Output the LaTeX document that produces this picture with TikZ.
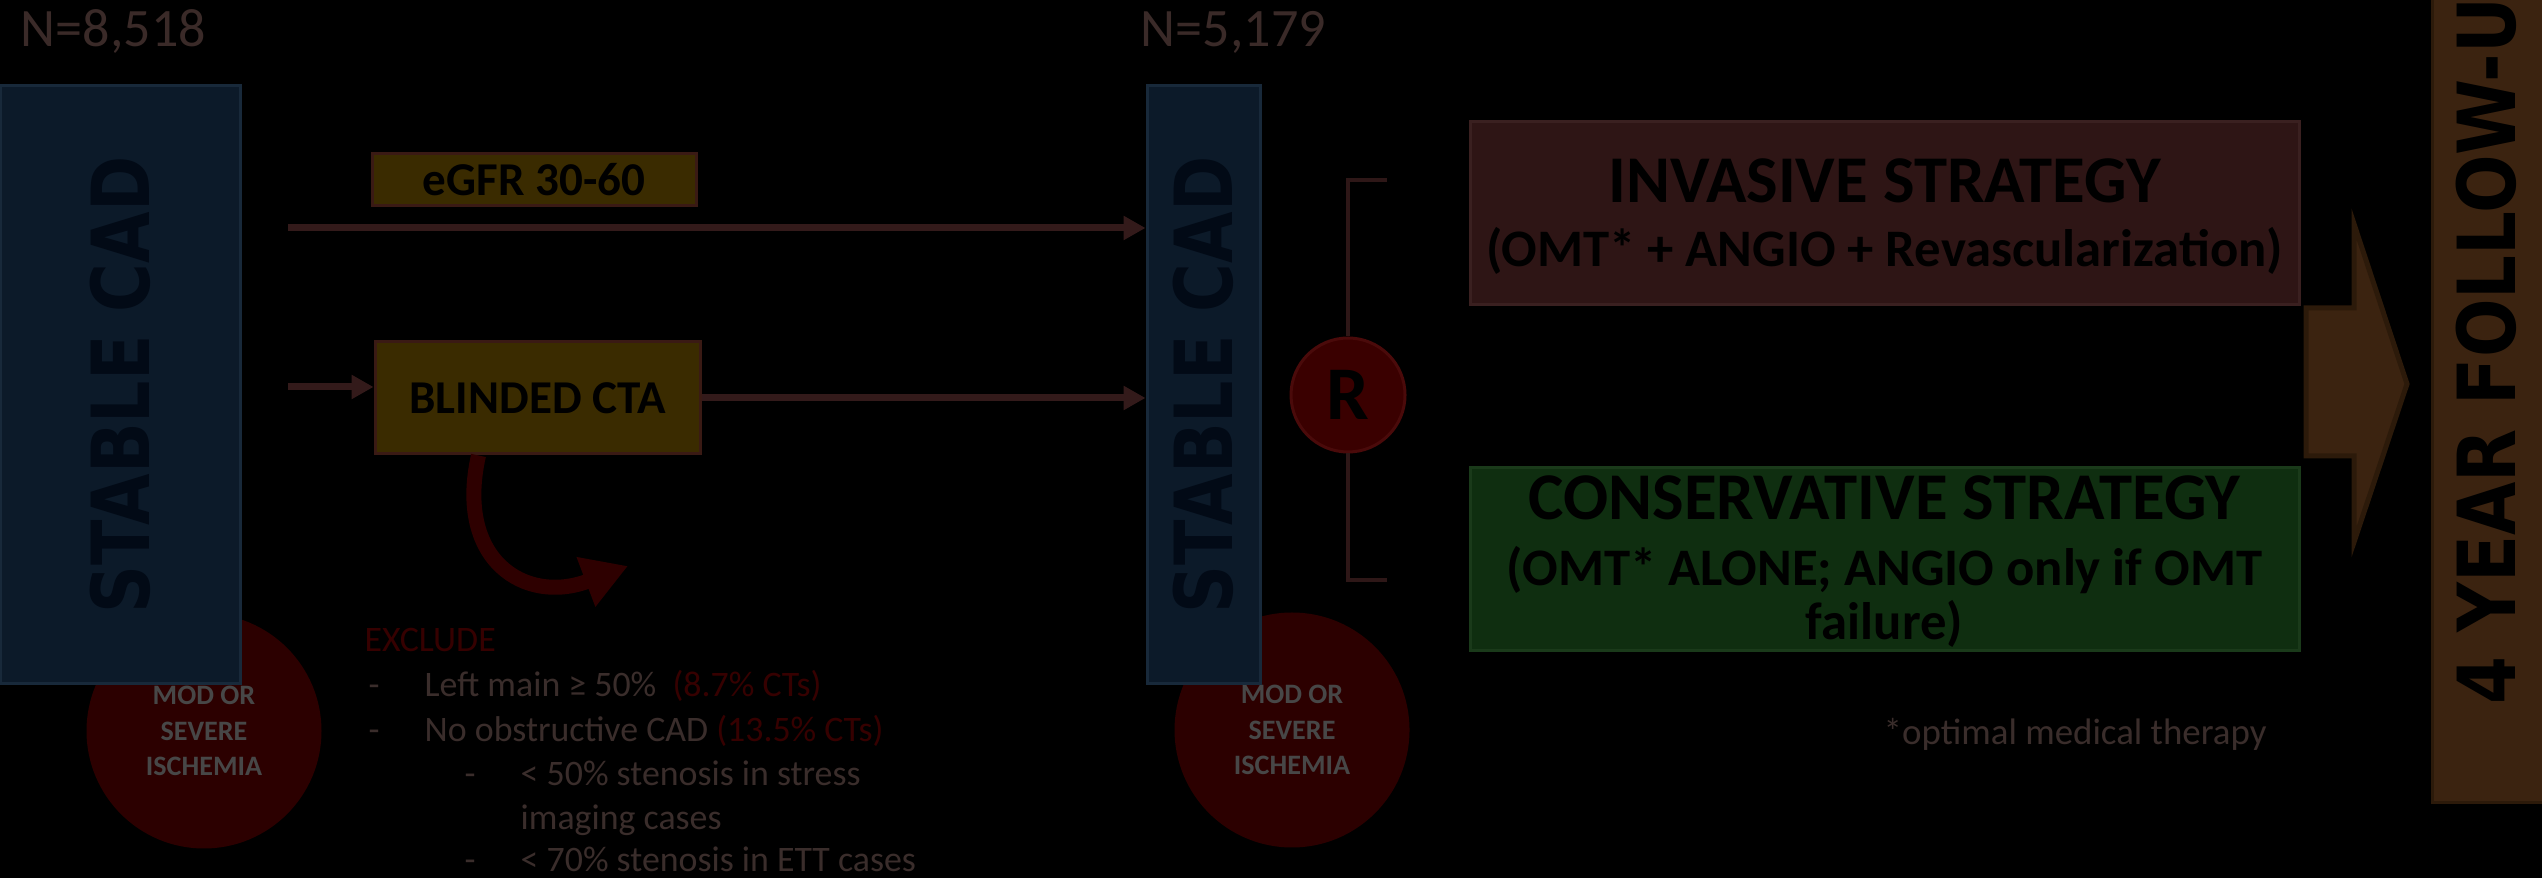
\documentclass[tikz,border=0pt]{standalone}
\usepackage{fontspec}
\setmainfont{Carlito}
\newfontfamily\widefont{DejaVu Sans}
\usetikzlibrary{arrows.meta,positioning,calc}

\definecolor{cadfill}{HTML}{0C1A29}
\definecolor{cadedge}{HTML}{18293A}
\definecolor{cadink}{HTML}{020A16}
\definecolor{ischfill}{HTML}{2C0000}
\definecolor{ischink}{HTML}{474747}
\definecolor{tagfill}{HTML}{3A2B00}
\definecolor{tagedge}{HTML}{3A1A14}
\definecolor{flowcol}{HTML}{331A1A}
\definecolor{curvecol}{HTML}{2E0000}
\definecolor{countink}{HTML}{3A2A28}
\definecolor{exclred}{HTML}{360000}
\definecolor{listink}{HTML}{3A2D2B}
\definecolor{rfill}{HTML}{3A0000}
\definecolor{redge}{HTML}{4A0A0A}
\definecolor{bracketcol}{HTML}{2E1717}
\definecolor{invfill}{HTML}{2E1515}
\definecolor{invedge}{HTML}{3A2020}
\definecolor{consfill}{HTML}{0F2E10}
\definecolor{consedge}{HTML}{1A3A1A}
\definecolor{fufill}{HTML}{3B2310}
\definecolor{fuedge}{HTML}{2C1A0A}

\begin{document}
\begin{tikzpicture}[
    x=0.1mm, y=-0.1mm,
    cadbox/.style={rectangle, draw=cadedge, line width=0.3mm, fill=cadfill, inner sep=0pt, minimum height=59.8mm},
    cadlabel/.style={rotate=90, text=cadink, font=\widefont\bfseries\fontsize{22.8}{24}\selectfont, inner sep=0pt},
    ischemia/.style={circle, fill=ischfill, minimum size=23.5mm, inner sep=0pt, align=center, text=ischink, font=\bfseries\fontsize{8}{10}\selectfont},
    tagbox/.style={rectangle, draw=tagedge, line width=0.3mm, fill=tagfill, inner sep=0pt, font=\bfseries\fontsize{13.4}{15}\selectfont},
    flow/.style={draw=flowcol, line width=0.7mm, -{Triangle[length=2.2mm,width=2.3mm]}},
    ncount/.style={anchor=base west, text=countink, font=\fontsize{15.4}{17}\selectfont, inner sep=0pt},
    listline/.style={anchor=base west, text=listink, font=\fontsize{10.2}{12}\selectfont, inner sep=0pt},
    stratbox/.style={rectangle, line width=0.3mm, inner sep=0pt, minimum width=82.9mm, minimum height=18.3mm},
    strattitle/.style={font=\bfseries\fontsize{19}{21}\selectfont, inner sep=0pt},
    stratsub/.style={font=\bfseries\fontsize{15}{15.6}\selectfont, inner sep=0pt, align=center}
]

\useasboundingbox (0,0) rectangle (2542,878);
\fill[black] (0,0) rectangle (2542,878);
\clip (0,0) rectangle (2542,878);

% counts
\node[ncount] (n1) at (20,47) {N=8,518};
\node[ncount] (n2) at (1140,47) {N=5,179};

% ischemia circles (behind the boxes)
\node[ischemia] (isch1) at (204,731) {MOD OR\\SEVERE\\ISCHEMIA};
\node[ischemia] (isch2) at (1292,730) {MOD OR\\SEVERE\\ISCHEMIA};

% stable CAD columns
\node[cadbox, minimum width=24mm] (cad1) at (120,385) {};
\node[cadlabel] (cad1t) at (cad1.center) {\scalebox{0.83}[1]{STABLE CAD}};
\node[cadbox, minimum width=11.3mm] (cad2) at (1203.5,385) {};
\node[cadlabel] (cad2t) at (cad2.center) {\scalebox{0.83}[1]{STABLE CAD}};

% screening
\node[tagbox, minimum width=32.4mm, minimum height=5.2mm] (egfr) at (534,180) {eGFR 30-60};
\node[tagbox, minimum width=32.5mm, minimum height=11.2mm] (cta) at (537.5,398) {BLINDED CTA};

\coordinate (egfrin) at (288,228);
\coordinate (ctain) at (288,387);
\draw[flow] (egfrin) -- (egfrin -| cad2.west);
\draw[flow] (ctain) -- (ctain -| cta.west);
\draw[flow] (cta.east) -- (cta.east -| cad2.west);

% exclusion
\coordinate (exclend) at (628,566);
\draw[curvecol, line width=1.5mm, -{Triangle[length=4.5mm,width=5mm]}] ([xshift=-5.9mm]cta.south) .. controls (455,560) and (525,605) .. (exclend);

\node[listline, text=exclred] (excl) at (364,652) {EXCLUDE};
\node[listline] (ex1) at (368,697) {\makebox[5.6mm][l]{-}Left main ≥ 50\%\ \ \textcolor{exclred}{(8.7\% CTs)}};
\node[listline] (ex2) at (368,742) {\makebox[5.6mm][l]{-}No obstructive CAD \textcolor{exclred}{(13.5\% CTs)}};
\node[listline] (ex3) at (464,786) {\makebox[5.6mm][l]{-}< 50\% stenosis in stress};
\node[listline] (ex4) at (520,830) {imaging cases};
\node[listline] (ex5) at (464,872) {\makebox[5.6mm][l]{-}< 70\% stenosis in ETT cases};

% randomisation
\coordinate (brtop) at (1387,180);
\coordinate (brbot) at (1387,580);
\node[circle, fill=rfill, draw=redge, line width=0.3mm, minimum size=11.4mm, inner sep=0pt, font=\bfseries\fontsize{21.6}{22}\selectfont] (rand) at (1348,395) {R};
\draw[bracketcol, line width=0.4mm] (rand.north) |- (brtop);
\draw[bracketcol, line width=0.4mm] (rand.south) |- (brbot);

% strategies
\node[stratbox, fill=invfill, draw=invedge] (inv) at (1884.5,213.5) {};
\node[strattitle] (invt) at ($(inv.north)+(0,60)$) {INVASIVE STRATEGY};
\node[stratsub] (invs) at ($(inv.north)+(0,130)$) {(OMT* + ANGIO + Revascularization)};

\node[stratbox, fill=consfill, draw=consedge] (cons) at (1884.5,559) {};
\node[strattitle] (const) at ($(cons.north)+(0,32)$) {CONSERVATIVE STRATEGY};
\node[stratsub] (conss) at ($(cons.north)+(0,131)$) {(OMT* ALONE; ANGIO only if OMT\\failure)};

\node[anchor=base west, text=listink, font=\fontsize{10.5}{12}\selectfont, inner sep=0pt] (omtnote) at (1883,745) {*optimal medical therapy};

% follow-up
\draw[fill=fufill, draw=fuedge, line width=0.5mm] (2306,308) -- (2354,308) -- (2354,224) -- (2407,384) -- (2354,542) -- (2354,456) -- (2306,456) -- cycle;
\node[rectangle, fill=fufill, draw=fuedge, line width=0.3mm, minimum width=11.3mm, minimum height=95.3mm, inner sep=0pt] (fu) at (2488.5,326.5) {};
\node[rotate=90, anchor=west, text=black, font=\widefont\bfseries\fontsize{22.8}{24}\selectfont, inner sep=0pt] (fut) at (2486,705) {\scalebox{0.86}[1]{4 YEAR FOLLOW-UP}};

\end{tikzpicture}
\end{document}
